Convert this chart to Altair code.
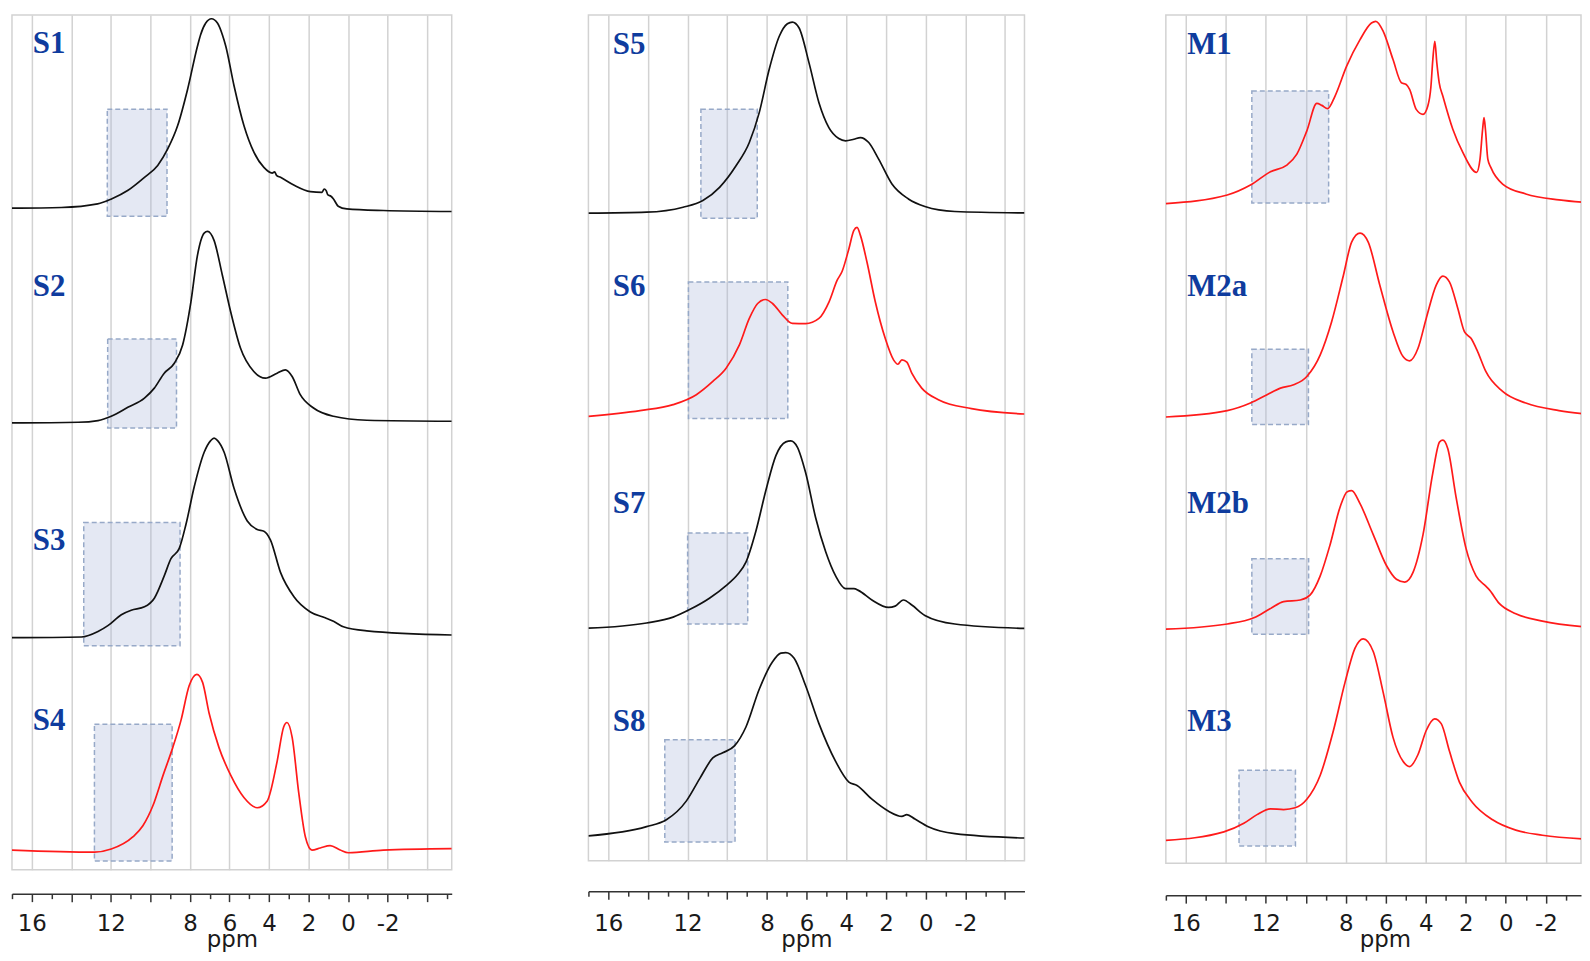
import altair as alt
import pandas as pd

BLACK = "#111111"
RED = "#ff1a1a"

# ---------------- Panel 1 ----------------
s1_ppm = [17.0, 14.5, 12.67, 11.97, 11.13, 10.3, 9.63, 9.13, 8.62, 8.12, 7.62, 7.46, 7.2, 6.91, 6.61, 6.36, 6.19, 5.77, 5.27, 4.76, 4.26, 3.84, 3.72, 3.62, 3.42, 2.75, 1.91, 1.32, 1.21, 1.11, 1.02, 0.87, 0.74, 0.5, 0.07, -1.78, -5.24]
s1_int = [0, 0.7, 4.3, 9.3, 18, 31, 43, 59.3, 83, 119.3, 162.7, 174.3, 186, 190.3, 186, 174.3, 163, 123, 83, 56, 41, 35.3, 36.5, 33, 31, 23.3, 16.7, 16, 19.3, 17.7, 13.3, 12, 9.3, 2, -0.7, -2.3, -3.3]
s2_ppm = [17, 13.65, 12.65, 11.98, 11.14, 10.3, 9.8, 9.3, 8.79, 8.37, 7.95, 7.62, 7.28, 7.11, 6.78, 6.36, 5.94, 5.44, 4.77, 4.18, 3.59, 3.17, 2.83, 2.42, 1.75, 0.74, -0.94, -5.24]
s2_int = [0, 0.7, 2.4, 6.7, 15.7, 25, 35, 50, 60, 78.4, 121.7, 168.4, 190.7, 192.4, 183.4, 148.4, 111.7, 75, 51.7, 45, 50, 53.4, 46.7, 28.4, 15, 6.7, 2.7, 1.7]
s3_ppm = [17, 13.49, 12.65, 12.15, 11.47, 10.97, 10.3, 9.8, 9.3, 8.96, 8.54, 8.2, 7.78, 7.28, 6.95, 6.78, 6.6, 6.27, 5.77, 5.1, 4.6, 4.26, 3.93, 3.42, 2.75, 1.91, 1.16, 0.74, 0.24, -0.94, -5.24]
s3_int = [0, 0.7, 6.2, 12.1, 23.1, 27.6, 31, 39.7, 62.1, 79.4, 89.7, 113.9, 151.8, 186.3, 198, 200.5, 198, 186.3, 150.1, 117.3, 108.7, 107, 98.3, 65.6, 41.4, 25.9, 20, 16.5, 11, 6.9, 2.7]
s4_ppm = [17, 12.82, 11.98, 10.89, 10.38, 9.87, 9.36, 8.87, 8.45, 8.04, 7.65, 7.36, 7.03, 6.53, 5.94, 5.27, 4.6, 4.09, 3.59, 3.26, 3.09, 2.83, 2.5, 2.16, 1.83, 1.41, 0.91, 0.4, -0.02, -1.78, -5.24]
s4_int = [0, -2.1, 1, 13.2, 24.4, 44.7, 75, 102.9, 130.5, 165, 176.4, 168.4, 137.4, 102.9, 75.2, 52.8, 42.5, 49.4, 89.1, 123.6, 128.1, 113.2, 58, 13.1, 0, 2.1, 4.5, 0, -2.7, 0, 1.4]

# ---------------- Panel 2 ----------------
s5_ppm = [17, 14.07, 12.23, 11.23, 10.39, 9.56, 8.89, 8.39, 7.89, 7.38, 6.97, 6.72, 6.38, 5.88, 5.38, 4.88, 4.38, 4.04, 3.62, 3.29, 2.87, 2.37, 1.7, 0.87, 0.04, -1.47, -4.98]
s5_int = [0, 1, 6, 12.7, 26, 47.7, 71, 101, 144.3, 177.7, 190.3, 192, 186, 151, 111, 86, 75, 72.7, 74.3, 76, 71, 54.3, 29.3, 14.3, 6.7, 1.7, 0.3]
s6_ppm = [17, 14.4, 12.73, 11.56, 10.73, 10.06, 9.39, 8.89, 8.47, 8.08, 7.72, 7.22, 6.72, 6.05, 5.38, 4.87, 4.46, 4.21, 3.87, 3.62, 3.46, 3.29, 2.96, 2.54, 2.04, 1.62, 1.4, 1.2, 0.95, 0.7, 0.2, -0.64, -2.31, -4.98]
s6_int = [0, 5.7, 11.7, 21.7, 35, 48.3, 71.7, 98.3, 113.3, 117.3, 113.3, 101.7, 93.3, 93, 98.3, 115, 136.7, 145.7, 168.3, 186.7, 189.7, 181.7, 155, 115, 78.3, 56.7, 52.3, 56.7, 54.3, 43.3, 28.3, 16.7, 7.7, 2.3]
s7_ppm = [17, 14.07, 12.73, 11.9, 10.9, 10.06, 9.47, 9.06, 8.56, 8.05, 7.55, 7.05, 6.8, 6.47, 6.05, 5.55, 5.04, 4.54, 4.04, 3.62, 3.37, 2.71, 1.87, 1.54, 1.12, 0.7, 0.04, -1.47, -4.98]
s7_int = [0, 5.2, 11.1, 18.7, 30.1, 42.8, 54.2, 66.3, 97.4, 138.8, 173.3, 187.1, 188.1, 181.9, 156, 111.2, 76.7, 52.5, 39.7, 39.7, 37.7, 28.3, 20.8, 22.1, 28.3, 23.2, 12.8, 4.2, -0.3]
s8_ppm = [17, 14.07, 13.07, 12.06, 11.39, 10.73, 10.23, 9.64, 9.06, 8.39, 7.72, 7.3, 7.05, 6.63, 6.05, 5.38, 4.54, 3.87, 3.46, 2.71, 1.87, 1.2, 0.95, 0.54, -0.13, -1.47, -4.98]
s8_int = [0, 9.3, 16.2, 35.2, 57.6, 78.3, 83.5, 90.4, 109.4, 147.3, 174.9, 183.6, 184.2, 178.4, 150.8, 112.8, 74.9, 54.1, 50.7, 36.9, 24.8, 19.6, 21.4, 16.9, 9.3, 2.3, -2.1]

# ---------------- Panel 3 ----------------
m1_ppm = [17.0, 13.93, 12.77, 11.77, 10.95, 10.45, 9.95, 9.45, 9.2, 8.91, 8.54, 7.96, 7.29, 6.72, 6.5, 6.13, 5.64, 5.22, 4.98, 4.81, 4.48, 4.14, 3.9, 3.75, 3.65, 3.55, 3.45, 3.33, 3.15, 2.65, 2.15, 1.46, 1.29, 1.16, 1.09, 1.02, 0.9, 0.75, 0.16, -1.0, -2.66, -4.31]
m1_int = [0, 8.6, 18.6, 32, 38.6, 49.6, 73, 100.6, 98.6, 95.3, 108, 138, 164.6, 181.3, 183, 173, 144.6, 121.3, 119.6, 114.6, 94.6, 89.6, 98, 116.3, 144.6, 163, 141.3, 121.3, 108, 74.6, 51.3, 31.3, 44.6, 74.6, 86.3, 74.6, 44.6, 36.3, 19.6, 9.6, 3.6, 0.6]
m2a_ppm = [17, 13.93, 12.77, 11.94, 11.27, 10.61, 9.95, 9.28, 8.71, 8.12, 7.71, 7.29, 6.88, 6.3, 5.64, 5.14, 4.81, 4.39, 3.98, 3.48, 3.15, 2.82, 2.4, 2.07, 1.74, 1.41, 1.0, 0.16, -1.0, -2.66, -4.31]
m2a_int = [0, 6.4, 14, 22.4, 29, 32.4, 40.7, 62.4, 95.7, 142.4, 175.7, 184.7, 175.7, 132.4, 85.7, 60.7, 56.4, 69, 99, 132.4, 141.4, 135.7, 109, 85.7, 79, 65.7, 45.7, 25.7, 14, 6.4, 2.4]
m2b_ppm = [17, 13.93, 12.6, 11.77, 11.11, 10.28, 9.78, 9.28, 8.79, 8.29, 7.93, 7.71, 7.29, 6.63, 5.97, 5.47, 5.05, 4.64, 4.14, 3.65, 3.31, 3.15, 2.9, 2.49, 1.99, 1.49, 1.0, 0.83, 0.33, -0.5, -1.83, -4.31]
m2b_int = [0, 5.2, 11.4, 20.7, 27.6, 29.3, 34.5, 53.5, 84.6, 122.5, 138.1, 139.1, 126, 94.9, 63.9, 50.1, 47.3, 57, 94.9, 157, 188.1, 189.8, 181.2, 132.9, 81.1, 53.5, 43.2, 39.7, 25.9, 15.5, 8, 1.7]
m3_ppm = [17, 14.1, 13.1, 12.44, 11.77, 11.11, 10.53, 9.95, 9.28, 8.62, 8.04, 7.54, 7.13, 6.63, 6.13, 5.64, 5.14, 4.81, 4.39, 3.98, 3.56, 3.23, 2.82, 2.32, 1.66, 0.66, -0.5, -1.83, -4.31]
m3_int = [0, 8.6, 17.2, 25.9, 31.7, 31, 32.8, 41.4, 65.5, 110.4, 158.7, 193.2, 202.5, 189.8, 148.4, 103.5, 79.4, 74.2, 86.3, 110.4, 122.1, 117.3, 89.7, 58.6, 37.9, 20.7, 10.3, 5.2, 1]

# names, colours, stacking offsets
p1_names = ["S1", "S2", "S3", "S4"]
p2_names = ["S5", "S6", "S7", "S8"]
p3_names = ["M1", "M2a", "M2b", "M3"]
p1_colors = [BLACK, BLACK, BLACK, RED]
p2_colors = [BLACK, RED, BLACK, BLACK]
p3_colors = [RED, RED, RED, RED]
p1_offsets = [664.5, 448.8, 233.1, 19.8]
p2_offsets = [650.5, 446.5, 233.7, 25]
p3_offsets = [662.7, 448.3, 235.2, 23]

# highlighted regions: ppm high, ppm low, top, bottom (relative to trace baseline)
p1_box_hi = [12.18, 12.16, 13.37, 12.83]
p1_box_lo = [9.16, 8.68, 8.5, 8.9]
p1_box_top = [99.3, 84.4, 115.6, 126.3]
p1_box_bot = [-8, -5, -8, -11]
p2_box_hi = [11.33, 11.96, 12.0, 13.15]
p2_box_lo = [8.49, 6.95, 8.97, 9.61]
p2_box_top = [104.3, 135, 95.6, 96.6]
p2_box_bot = [-5, -2.3, 4.2, -6.2]
p3_box_hi = [12.7, 12.7, 12.7, 13.34]
p3_box_lo = [8.86, 9.87, 9.86, 10.52]
p3_box_top = [113, 68, 70.8, 70.4]
p3_box_bot = [0.6, -7.6, -5.2, -5.5]

# sample labels (relative to trace baseline)
p1_label_y = [155.5, 127.7, 88, 120.1]
p2_label_y = [160.3, 121, 115.3, 104.9]
p3_label_y = [150.3, 121.7, 116.3, 110]
label_ppm = [15.95, 15.77, 15.93]

# ppm axes
p1_ticks = list(range(-5, 18))
p2_ticks = list(range(-4, 18))
p3_ticks = list(range(-3, 18))
shown_labels = [16, 12, 8, 6, 4, 2, 0, -2]

TOP = 12              # page y of the plot tops
LABEL_BASE = 932      # page y of tick-label baselines
TITLE_BASE = 948      # page y of "ppm" baseline


def make_panel(names, colors, offsets, ppms, ints, bhi, blo, btop, bbot, lab_y, lab_ppm,
               xdom, ticks, width, frame_bottom, axis_y, title_x=None):
    height = frame_bottom - TOP
    rows = []
    for name, col, off, pp, ii in zip(names, colors, offsets, ppms, ints):
        for p, v in zip(pp, ii):
            rows.append({"name": name, "col": col, "ppm": p, "y": off + v})
    lines = pd.DataFrame(rows)
    boxes = pd.DataFrame({
        "name": names,
        "x1": bhi, "x2": blo,
        "y1": [o + b for o, b in zip(offsets, bbot)],
        "y2": [o + t for o, t in zip(offsets, btop)],
    })
    labels = pd.DataFrame({
        "name": names,
        "ppm": [lab_ppm] * len(names),
        "y": [o + l for o, l in zip(offsets, lab_y)],
    })

    xs = alt.Scale(domain=xdom, reverse=True, nice=False, zero=False)
    ys = alt.Scale(domain=[0, height], nice=False, zero=False)
    axkw = dict(
        values=ticks,
        labelExpr="indexof(%s, datum.value) >= 0 ? '' + datum.value : ''" % str(shown_labels),
        labelOverlap=False,
        labelFlush=False,
        labelFont="DejaVu Sans",
        labelFontSize=23,
        labelColor="#1a1a1a",
        labelBaseline="alphabetic",
        labelPadding=LABEL_BASE - axis_y - 8,
        offset=axis_y - frame_bottom,
        tickSize=8,
        tickWidth=1.5,
        tickColor="#333333",
        tickDash={"condition": {"test": "datum.value % 2 !== 0", "value": [5, 30]}, "value": [8, 0]},
        domainColor="#333333",
        domainWidth=1.5,
        grid=True,
        gridColor="#d2d2d2",
        gridWidth=1.5,
        gridOpacity={"condition": {"test": "datum.value % 2 !== 0", "value": 0}, "value": 1},
        title="ppm",
        titleFont="DejaVu Sans",
        titleFontSize=23,
        titleFontWeight="normal",
        titleColor="#1a1a1a",
        titleBaseline="alphabetic",
        titleY=TITLE_BASE - axis_y,
    )
    if title_x is not None:
        axkw["titleX"] = title_x
    ax = alt.Axis(**axkw)

    rect = alt.Chart(boxes).mark_rect(
        fill="#a8b5d8", fillOpacity=0.31, stroke="#97a9c8", strokeWidth=1.5, strokeDash=[5, 3]
    ).encode(
        x=alt.X("x1:Q", scale=xs, axis=ax, title="ppm"),
        x2="x2:Q",
        y=alt.Y("y1:Q", scale=ys, axis=None),
        y2="y2:Q",
    )
    line = alt.Chart(lines).mark_line(
        interpolate="monotone", strokeWidth=1.7, clip=True
    ).encode(
        x=alt.X("ppm:Q", scale=xs, axis=ax, title="ppm"),
        y=alt.Y("y:Q", scale=ys, axis=None),
        color=alt.Color("col:N", scale=None),
        detail="name:N",
    )
    text = alt.Chart(labels).mark_text(
        align="left", baseline="alphabetic", font="Liberation Serif", fontWeight="bold",
        fontSize=31, color="#0f3c9e"
    ).encode(
        x=alt.X("ppm:Q", scale=xs, axis=ax, title="ppm"),
        y=alt.Y("y:Q", scale=ys, axis=None),
        text="name:N",
    )
    return alt.layer(rect, line, text).properties(width=width, height=height)


p1 = make_panel(p1_names, p1_colors, p1_offsets,
                [s1_ppm, s2_ppm, s3_ppm, s4_ppm], [s1_int, s2_int, s3_int, s4_int],
                p1_box_hi, p1_box_lo, p1_box_top, p1_box_bot, p1_label_y, label_ppm[0],
                [-5.24, 17], p1_ticks, 441.7, 870.5, 894.5)
p2 = make_panel(p2_names, p2_colors, p2_offsets,
                [s5_ppm, s6_ppm, s7_ppm, s8_ppm], [s5_int, s6_int, s7_int, s8_int],
                p2_box_hi, p2_box_lo, p2_box_top, p2_box_bot, p2_label_y, label_ppm[1],
                [-4.98, 17], p2_ticks, 438, 861.5, 892)
p3 = make_panel(p3_names, p3_colors, p3_offsets,
                [m1_ppm, m2a_ppm, m2b_ppm, m3_ppm], [m1_int, m2a_int, m2b_int, m3_int],
                p3_box_hi, p3_box_lo, p3_box_top, p3_box_bot, p3_label_y, label_ppm[2],
                [-3.76, 17], p3_ticks, 417, 864, 896, title_x=220)

chart = alt.hconcat(alt.hconcat(p1, p2, spacing=134), p3, spacing=139).properties(
    padding={"left": 2, "top": TOP - 8, "right": 0, "bottom": 0},
    background="white",
).configure_view(stroke="#d2d2d2", strokeWidth=1.5)

chart.save("out.html", embed_options={"renderer": "svg", "actions": False})
